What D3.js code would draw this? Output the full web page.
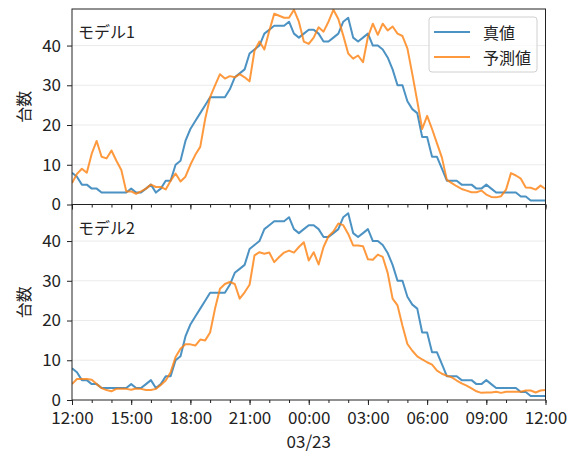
<!DOCTYPE html>
<html>
<head>
<meta charset="utf-8">
<script src="https://cdn.jsdelivr.net/npm/d3@7"></script>
<style>
    body { margin: 0; background: #fff; }
    text { font-family: "Noto Sans CJK JP", "Noto Sans", sans-serif; fill: #222; }
    .grid line { stroke: #ebebeb; stroke-width: 1; }
    .axis path, .axis line { stroke: #222; }
</style>
</head>
<body>
<svg id="chart" width="578" height="452"></svg>
<script>
// 15-minute samples, 03/22 12:00 -> 03/23 12:00
var startTime = new Date(2023, 2, 22, 12, 0);
var endTime = new Date(2023, 2, 23, 12, 0);
var times = d3.timeMinute.every(15).range(startTime, d3.timeMinute.offset(endTime, 1));

var panelNames = ["モデル1", "モデル2"];
var seriesNames = ["真値", "予測値"];
var yTicks = [0, 10, 20, 30, 40];

// true values (same for both models)
var actual = [8, 7, 5, 5, 4, 4, 3, 3, 3, 3,
    3, 3, 4, 3, 3, 4, 5, 3, 4, 6,
    6, 10, 11, 16, 19, 21, 23, 25, 27, 27,
    27, 27, 29, 32, 33, 34, 38, 39, 40, 43,
    44, 45, 45, 45, 46, 43, 42, 43, 44, 44,
    43, 41, 41, 42, 43, 46, 47, 42, 41, 42,
    43, 40, 40, 39, 37, 34, 30, 30, 26, 24,
    23, 17, 17, 12, 12, 9, 6, 6, 6, 5,
    5, 5, 4, 4, 5, 4, 3, 3, 3, 3,
    3, 2, 2, 1, 1, 1, 1];

var predModel1 = [5.4, 7.7, 9, 8, 12.8, 16, 12, 11.6, 13.6, 11,
    8.7, 3.3, 3.3, 2.7, 3.3, 4, 5, 4.4, 4.4, 3.8,
    6, 7.8, 5.8, 7, 10, 12.5, 14.5, 21.5, 27, 30,
    32.8, 31.7, 32.3, 32, 32.8, 32, 31, 38.7, 41, 39,
    43.7, 48, 47.5, 47, 47, 49, 46, 41, 40.4, 42,
    44.6, 43.5, 46, 49, 46.7, 42.5, 38, 36.7, 37.5, 35.8,
    42.2, 45.5, 42.7, 45.5, 43.8, 44.8, 43, 42.4, 39.3, 32.8,
    26, 19, 22.3, 19, 15.4, 11.8, 6.2, 5.4, 4.6, 3.9,
    3.5, 3.1, 3.1, 3.5, 2.5, 1.9, 1.8, 2.1, 3.75, 7.9,
    7.3, 6.5, 4.3, 4.2, 3.75, 4.75, 3.9];

var predModel2 = [4, 5.3, 5.3, 5.3, 5.1, 4, 3, 2.5, 2.2, 2.8,
    2.8, 2.8, 2.6, 2.9, 2.8, 2.5, 2.5, 2.8, 3.8, 4.9,
    7, 10.8, 12.9, 14, 14, 13.7, 15.2, 15, 17, 23,
    28, 29.2, 29.7, 29.2, 25.5, 27.1, 29, 36.4, 37.2, 36.8,
    37.1, 34.7, 36, 37.1, 37.6, 37.1, 38.5, 39.7, 35.1, 37.2,
    34.1, 38.5, 41.2, 42.4, 44.4, 44, 41.8, 38.9, 38.9, 38.7,
    35.4, 35.3, 36.6, 36, 32, 25.5, 23.8, 18.7, 14.1, 12.4,
    11, 10.2, 9.5, 8.9, 7.4, 6.6, 6.1, 5.7, 4.9, 4.2,
    3.6, 2.9, 2.2, 1.8, 1.9, 1.9, 2.1, 1.8, 2.1, 2.1,
    2.1, 2.1, 2.4, 2.4, 1.9, 2.4, 2.5];

var predictions = [predModel1, predModel2];
var colors = ["#1f77b4", "#ff7f0e"];

var svg = d3.select("#chart");

// note: "top" is taken by window.top, so plotTop
var plotLeft = 72, plotRight = 545.5,
    plotTop = 9, panelHeight = 195.5;

var xScale = d3.scaleTime()
    .domain([startTime, endTime])
    .range([plotLeft, plotRight]);

var yScale = d3.scaleLinear()
    .domain([0, 49.2])
    .range([panelHeight, 0]);

function drawPanel(k) {
    var y0 = plotTop + k * panelHeight;
    var g = svg.append("g")
        .attr("transform", "translate(0," + y0 + ")");

    // horizontal grid
    g.append("g")
        .attr("class", "grid")
        .selectAll("line")
        .data(yTicks.slice(1))
        .enter()
        .append("line")
        .attr("x1", plotLeft)
        .attr("x2", plotRight)
        .attr("y1", function(d) { return yScale(d); })
        .attr("y2", function(d) { return yScale(d); });

    g.append("clipPath")
        .attr("id", "clip" + k)
        .append("rect")
        .attr("x", plotLeft)
        .attr("y", 0)
        .attr("width", plotRight - plotLeft)
        .attr("height", panelHeight);

    var line = d3.line()
        .x(function(d, i) { return xScale(times[i]); })
        .y(function(d) { return yScale(d); });

    [actual, predictions[k]].forEach(function(series, s) {
        g.append("path")
            .datum(series)
            .attr("clip-path", "url(#clip" + k + ")")
            .attr("fill", "none")
            .attr("stroke", colors[s])
            .attr("stroke-opacity", 0.8)
            .attr("stroke-width", 2)
            .attr("stroke-linejoin", "round")
            .attr("d", line);
    });

    // y axis
    var yAxis = d3.axisLeft(yScale)
        .tickValues(yTicks)
        .tickSize(5)
        .tickPadding(6);
    g.append("g")
        .attr("class", "axis")
        .attr("transform", "translate(" + plotLeft + ",0)")
        .call(yAxis)
        .call(function(a) { a.select(".domain").remove(); })
        .selectAll("text")
        .style("font-size", "17px");

    // x axis: minor every hour, major every 3 hours
    var xMinor = d3.axisBottom(xScale)
        .ticks(d3.timeHour.every(1))
        .tickSize(3)
        .tickFormat("");
    g.append("g")
        .attr("class", "axis")
        .attr("transform", "translate(0," + panelHeight + ")")
        .call(xMinor)
        .call(function(a) { a.select(".domain").remove(); });

    var xMajor = d3.axisBottom(xScale)
        .ticks(d3.timeHour.every(3))
        .tickSize(5)
        .tickPadding(7)
        .tickFormat(k == 1 ? d3.timeFormat("%H:%M") : "");
    g.append("g")
        .attr("class", "axis")
        .attr("transform", "translate(0," + panelHeight + ")")
        .call(xMajor)
        .call(function(a) { a.select(".domain").remove(); })
        .selectAll("text")
        .style("font-size", "17px");

    // frame
    g.append("rect")
        .attr("x", plotLeft)
        .attr("y", 0)
        .attr("width", plotRight - plotLeft)
        .attr("height", panelHeight)
        .attr("fill", "none")
        .attr("stroke", "#222")
        .attr("stroke-width", 1);

    g.append("text")
        .attr("x", plotLeft + 6)
        .attr("y", 22)
        .attr("dominant-baseline", "central")
        .style("font-size", "16px")
        .text(panelNames[k]);

    g.append("text")
        .attr("transform", "translate(23," + (panelHeight / 2) + ") rotate(-90)")
        .attr("text-anchor", "middle")
        .attr("dominant-baseline", "central")
        .style("font-size", "16px")
        .text("台数");
}

drawPanel(0);
drawPanel(1);

// date label under midnight
svg.append("text")
    .attr("x", xScale(new Date(2023, 2, 23, 0, 0)))
    .attr("y", 448)
    .attr("text-anchor", "middle")
    .style("font-size", "17px")
    .text(d3.timeFormat("%m/%d")(new Date(2023, 2, 23)));

// legend
var legend = svg.append("g");
legend.append("rect")
    .attr("x", 429)
    .attr("y", 17)
    .attr("width", 108)
    .attr("height", 55)
    .attr("rx", 3)
    .attr("fill", "#fff")
    .attr("fill-opacity", 0.8)
    .attr("stroke", "#d0d0d0");

seriesNames.forEach(function(name, i) {
    var ly = 32 + i * 25;
    legend.append("line")
        .attr("x1", 434)
        .attr("x2", 470)
        .attr("y1", ly)
        .attr("y2", ly)
        .attr("stroke", colors[i])
        .attr("stroke-opacity", 0.8)
        .attr("stroke-width", 2);
    legend.append("text")
        .attr("x", 483)
        .attr("y", ly)
        .attr("dominant-baseline", "central")
        .style("font-size", "16px")
        .text(name);
});
</script>
</body>
</html>
